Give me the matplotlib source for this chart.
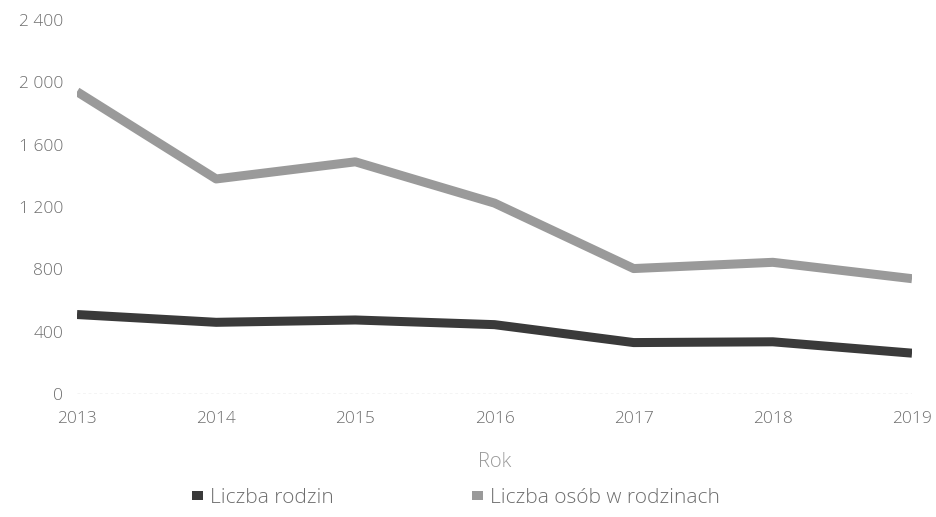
import matplotlib
matplotlib.use("Agg")
import matplotlib.pyplot as plt
from matplotlib.ticker import FuncFormatter
from matplotlib.patches import Patch

years = [2013, 2014, 2015, 2016, 2017, 2018, 2019]
rodziny = [510, 460, 475, 445, 330, 335, 262]
osoby = [1940, 1380, 1490, 1225, 805, 845, 740]
yticks = [0, 400, 800, 1200, 1600, 2000, 2400]
labels = ["Liczba rodzin", "Liczba osób w rodzinach"]

plt.rcParams['font.family'] = ['Open Sans', 'DejaVu Sans']
txt = '#6e6e6e'

fig = plt.figure(figsize=(9.37, 5.17), dpi=100)
ax = fig.add_axes([77/937, 1-394/517, (912-77)/937, (394-20)/517])

ax.plot(years, rodziny, color='#3a3a3a', lw=6.5, solid_capstyle='butt', label=labels[0], zorder=3)
ax.plot(years, osoby, color='#9a9a9a', lw=6.5, solid_capstyle='butt', label=labels[1], zorder=3)

ax.axhline(0, color='#c8c8c8', lw=1, ls=(0, (2, 2)), zorder=1)

ax.set_xlim(2013, 2019)
ax.set_ylim(0, 2400)
ax.set_yticks(yticks)
ax.set_xticks(years)
ax.yaxis.set_major_formatter(FuncFormatter(lambda v, p: f"{int(v):,}".replace(",", " ")))
for s in ax.spines.values():
    s.set_visible(False)
ax.tick_params(length=0, labelsize=12.5, labelcolor=txt)
ax.tick_params(axis='y', pad=10)
ax.tick_params(axis='x', pad=12)
for t in ax.get_yticklabels() + ax.get_xticklabels():
    t.set_fontweight('light')
ax.set_xlabel("Rok", fontsize=14.5, color='#9a9a9a', labelpad=18, fontweight='light')

ph = [Patch(facecolor='#3a3a3a'), Patch(facecolor='#9a9a9a')]
leg = fig.legend(ph, labels, loc='center', bbox_to_anchor=(456/937, 1-498/517), ncol=2,
                 frameon=False, fontsize=15, handlelength=0.55, handleheight=0.35,
                 handletextpad=0.35, columnspacing=6.6)
for t in leg.get_texts():
    t.set_color(txt)
    t.set_fontweight('light')

fig.savefig("out.png", dpi=100, facecolor='white')
